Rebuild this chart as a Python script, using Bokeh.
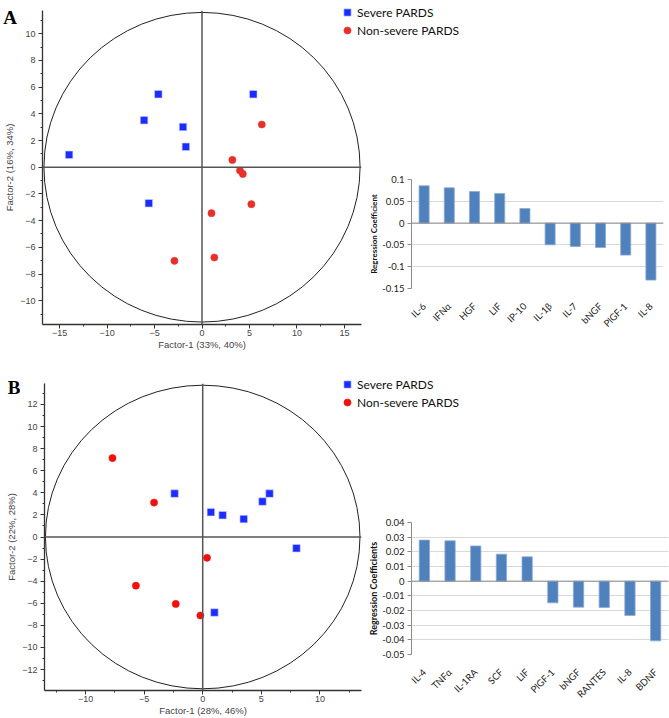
import math
from bokeh.plotting import figure
from bokeh.layouts import row, column
from bokeh.models import (Span, Legend, LegendItem, Label, SingleIntervalTicker,
                          FixedTicker, FactorRange, Range1d, Spacer)
from bokeh.embed import file_html
from bokeh.resources import INLINE

# ---------------- data ----------------
# Panel A scores
A_severe_x = [-14.0, -4.6, -6.1, -2.0, -1.7, -5.6, 5.4]
A_severe_y = [0.93, 5.47, 3.52, 3.02, 1.53, -2.70, 5.47]
A_nonsev_x = [6.3, 3.2, 4.0, 4.3, 5.2, 1.0, 1.3, -2.9]
A_nonsev_y = [3.20, 0.55, -0.25, -0.50, -2.77, -3.44, -6.76, -7.01]

# Panel B scores
B_severe_x = [-2.4, 0.7, 1.7, 3.5, 5.1, 5.7, 8.0, 1.0]
B_severe_y = [3.93, 2.25, 1.98, 1.62, 3.21, 3.93, -1.02, -6.84]
B_nonsev_x = [-7.7, -4.15, 0.37, -5.7, -2.3, -0.2]
B_nonsev_y = [7.15, 3.12, -1.89, -4.41, -6.06, -7.11]

# Panel A regression coefficients
A_cats = ["IL-6", "IFNα", "HGF", "LIF", "IP-10", "IL-1β", "IL-7", "bNGF", "PlGF-1", "IL-8"]
A_vals = [0.0855, 0.081, 0.0725, 0.068, 0.0335, -0.0498, -0.0537, -0.056, -0.0734, -0.1307]
A_ticks = [-0.15, -0.1, -0.05, 0, 0.05, 0.1]
A_tick_labels = ["-0.15", "-0.1", "-0.05", "0", "0.05", "0.1"]

# Panel B regression coefficients
B_cats = ["IL-4", "TNFα", "IL-1RA", "SCF", "LIF", "PlGF-1", "bNGF", "RANTES", "IL-8", "BDNF"]
B_vals = [0.028, 0.0275, 0.024, 0.0184, 0.0166, -0.0148, -0.0177, -0.018, -0.0234, -0.0407]
B_ticks = [-0.05, -0.04, -0.03, -0.02, -0.01, 0, 0.01, 0.02, 0.03, 0.04]
B_tick_labels = ["-0.05", "-0.04", "-0.03", "-0.02", "-0.01", "0", "0.01", "0.02", "0.03", "0.04"]

LEGEND_LABELS = ["Severe PARDS", "Non-severe PARDS"]

BLUE = "#1a2cff"
RED_A = "#e8302a"
RED_B = "#f2100d"
SANS = "Liberation Sans"
XL = "Lato"


def style_scatter_axes(p, ytitle_standoff):
    for ax in (p.xaxis, p.yaxis):
        ax.axis_line_color = "#333333"
        ax.axis_line_width = 1.3
        ax.major_tick_line_color = "#333333"
        ax.minor_tick_line_color = "#333333"
        ax.major_tick_out = 4
        ax.major_tick_in = 0
        ax.minor_tick_out = 2
        ax.minor_tick_in = 0
        ax.major_label_text_font = SANS
        ax.major_label_text_font_size = "9px"
        ax.major_label_text_color = "#444444"
        ax.axis_label_text_font = SANS
        ax.axis_label_text_font_size = "9.5px"
        ax.axis_label_text_font_style = "normal"
        ax.axis_label_text_color = "#444444"
    p.xaxis.major_label_standoff = 1
    p.xaxis.axis_label_standoff = 0
    p.yaxis.major_label_standoff = 3
    p.yaxis.axis_label_standoff = ytitle_standoff


def scatter_panel(sx, sy, nx, ny, red, xlab, ylab, xr, yr, xint, yint,
                  circ_w, circ_h, w, h, bl, br, bt, bb, ytitle_standoff):
    p = figure(width=w, height=h, x_range=Range1d(*xr), y_range=Range1d(*yr),
               output_backend="svg", toolbar_location=None, frame_align=False,
               min_border_left=bl, min_border_right=br, min_border_top=bt, min_border_bottom=bb)
    p.outline_line_color = None
    p.grid.visible = False
    p.background_fill_color = "white"
    p.border_fill_color = "white"
    p.xaxis.ticker = SingleIntervalTicker(interval=xint, num_minor_ticks=2)
    p.yaxis.ticker = SingleIntervalTicker(interval=yint, num_minor_ticks=2)
    p.xaxis.axis_label = xlab
    p.yaxis.axis_label = ylab
    style_scatter_axes(p, ytitle_standoff)

    p.add_layout(Span(location=0, dimension="width", line_color="#555555", line_width=1.5))
    p.add_layout(Span(location=0, dimension="height", line_color="#555555", line_width=1.5))
    p.ellipse(x=[0], y=[0], width=circ_w, height=circ_h, fill_color=None,
              line_color="#222222", line_width=1)

    p.scatter(sx, sy, marker="square", size=7.5, fill_color=BLUE,
              line_color="#c9cfff", line_width=0.6)
    p.scatter(nx, ny, marker="circle", size=7.2, fill_color=red,
              line_color=red, line_width=0.5)
    return p


def legend_panel(sx, sy, nx, ny, red, w, h, loc):
    # strip holding the group legend, drawn over the blank top-right corner.
    # Its view range lies away from the scores, so only the legend swatches show.
    lf = figure(width=w, height=h, x_range=Range1d(100, 101), y_range=Range1d(100, 101),
                output_backend="svg", toolbar_location=None, frame_align=False,
                x_axis_type=None, y_axis_type=None, min_border=0)
    lf.outline_line_color = None
    lf.grid.visible = False
    lf.background_fill_color = None
    lf.border_fill_color = None
    r1 = lf.scatter(sx, sy, marker="square", size=7.5, fill_color=BLUE,
                    line_color="#c9cfff", line_width=0.6)
    r2 = lf.scatter(nx, ny, marker="circle", size=7.2, fill_color=red,
                    line_color=red, line_width=0.5)
    leg = Legend(items=[LegendItem(label=LEGEND_LABELS[0], renderers=[r1]),
                        LegendItem(label=LEGEND_LABELS[1], renderers=[r2])],
                 location=loc, orientation="vertical",
                 glyph_width=18, glyph_height=18, label_height=18,
                 label_standoff=1, spacing=0, padding=0, margin=0,
                 border_line_color=None, background_fill_alpha=0,
                 label_text_font=XL, label_text_font_size="12px",
                 label_text_color="#111111")
    lf.add_layout(leg)
    return lf


def letter_panel(letter, w, h, xy, margin):
    f = figure(width=w, height=h, x_range=Range1d(0, 1), y_range=Range1d(0, 1),
               output_backend="svg", toolbar_location=None, frame_align=False,
               x_axis_type=None, y_axis_type=None, min_border=0, margin=margin)
    f.outline_line_color = None
    f.grid.visible = False
    f.background_fill_color = None
    f.border_fill_color = None
    f.add_layout(Label(x=xy[0], y=xy[1], x_units="screen", y_units="screen",
                       text=letter, text_font="Liberation Serif", text_font_size="19px",
                       text_font_style="bold", text_color="black",
                       text_baseline="alphabetic"))
    return f


def bar_panel(cats, vals, ticks, tick_labels, yr, ylab, ylab_size, w, h, bl, br, bt, bb, margin):
    b = figure(width=w, height=h, x_range=FactorRange(*cats), y_range=Range1d(*yr),
               output_backend="svg", toolbar_location=None, frame_align=False,
               min_border_left=bl, min_border_right=br, min_border_top=bt, min_border_bottom=bb,
               margin=margin)
    b.outline_line_color = None
    b.border_fill_color = None
    b.background_fill_color = "white"
    b.xgrid.visible = False
    b.ygrid.grid_line_color = "#d9d9d9"
    b.ygrid.grid_line_width = 1

    b.add_layout(Span(location=0, dimension="width", line_color="#8c8c8c", line_width=1))
    b.vbar(x=cats, top=vals, bottom=0, width=0.4, fill_color="#4f81bd",
           line_color="#8eaad3", line_width=0.8)

    ya = b.yaxis[0]
    ya.ticker = FixedTicker(ticks=ticks)
    ya.major_label_overrides = dict(zip(ticks, tick_labels))
    ya.minor_tick_line_color = None
    ya.axis_line_color = "#8c8c8c"
    ya.major_tick_line_color = "#8c8c8c"
    ya.major_tick_out = 4
    ya.major_tick_in = 0
    ya.major_label_standoff = 3
    ya.major_label_text_font = XL
    ya.major_label_text_font_size = "9.5px"
    ya.major_label_text_color = "#222222"
    ya.axis_label = ylab
    ya.axis_label_text_font = XL
    ya.axis_label_text_font_size = ylab_size
    ya.axis_label_text_font_style = "bold"
    ya.axis_label_text_color = "#111111"
    ya.axis_label_standoff = 0

    xa = b.xaxis[0]
    xa.axis_line_color = None
    xa.major_tick_line_color = None
    xa.minor_tick_line_color = None
    xa.major_label_orientation = math.pi / 4
    xa.major_label_standoff = 10
    xa.major_label_text_font = XL
    xa.major_label_text_font_size = "9.5px"
    xa.major_label_text_color = "#222222"
    return b


# ---------------- Panel A (rows 0..352) ----------------
sA = scatter_panel(A_severe_x, A_severe_y, A_nonsev_x, A_nonsev_y, RED_A,
                   "Factor-1 (33%, 40%)", "Factor-2 (16%, 34%)",
                   (-16.8, 16.8), (-11.78, 11.74), 5, 2, 33.3, 23.2,
                   465, 352, 42, 104, 10, 28, 2)
letA = letter_panel("A", 20, 40, (2.7, 23.3), (-352, 0, 312, 0))
legA = legend_panel(A_severe_x, A_severe_y, A_nonsev_x, A_nonsev_y, RED_A, 339, 45, (8, 6))
bA = bar_panel(A_cats, A_vals, A_ticks, A_tick_labels, (-0.15, 0.1),
               "Regression Coefficient", "8px",
               305, 202, 47, 6, 29, 64, (0, 0, 0, 34))
leftA = column(sA, letA)
rightA = column(legA, Spacer(width=339, height=105), bA, margin=(0, 0, 0, -135))

# ---------------- Panel B (rows 352..718) ----------------
sB = scatter_panel(B_severe_x, B_severe_y, B_nonsev_x, B_nonsev_y, RED_B,
                   "Factor-1 (28%, 46%)", "Factor-2 (22%, 28%)",
                   (-13.5, 13.55), (-13.9, 13.9), 5, 2, 26.84, 27.5,
                   465, 366, 44, 104, 31, 26, 2)
letB = letter_panel("B", 20, 50, (7.3, 15.3), (-366, 0, 316, 0))
legB = legend_panel(B_severe_x, B_severe_y, B_nonsev_x, B_nonsev_y, RED_B, 339, 65, (8, 6))
bB = bar_panel(B_cats, B_vals, B_ticks, B_tick_labels, (-0.05, 0.04),
               "Regression Coefficients", "9px",
               305, 216, 47, 1, 20, 64, (0, 0, 0, 34))
leftB = column(sB, letB)
rightB = column(legB, Spacer(width=339, height=85), bB, margin=(0, 0, 0, -135))

layout = column(row(leftA, rightA), row(leftB, rightB))

with open("out.html", "w") as f:
    f.write(file_html(layout, INLINE))
